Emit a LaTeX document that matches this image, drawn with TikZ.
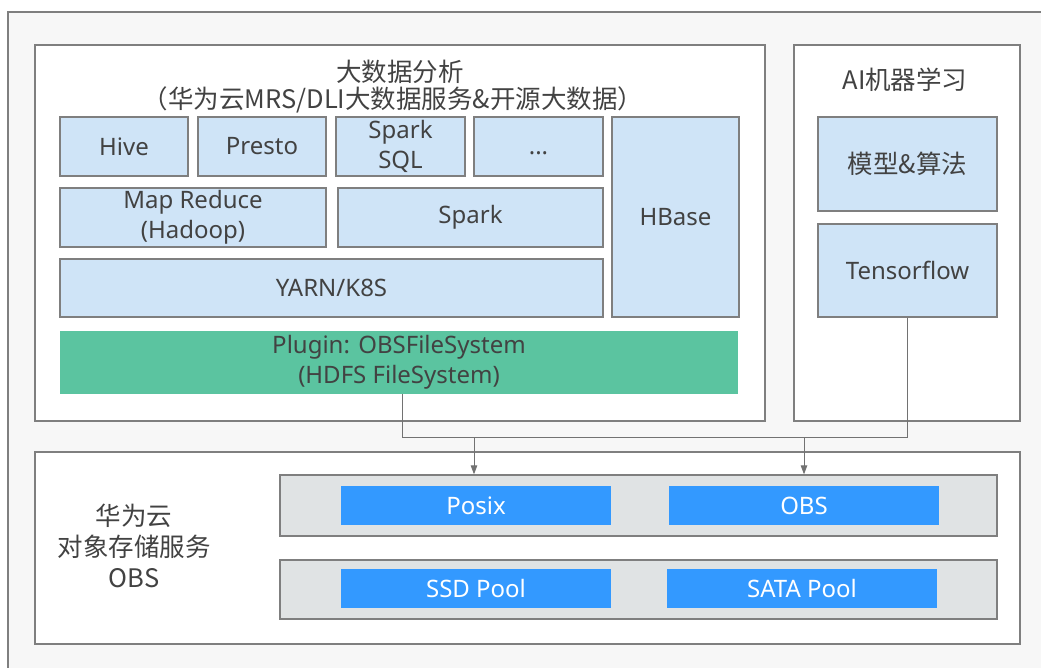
\documentclass[tikz,border=0pt]{standalone}
\usepackage{fontspec}
\setmainfont{Noto Sans}
\newfontfamily\cjk{Noto Sans CJK SC}
\usetikzlibrary{arrows.meta}
\definecolor{framegray}{HTML}{7F7F7F}
\definecolor{bggray}{HTML}{F7F7F7}
\definecolor{lblue}{HTML}{CFE4F7}
\definecolor{pgreen}{HTML}{5BC4A0}
\definecolor{rowgray}{HTML}{E0E3E4}
\definecolor{dblue}{HTML}{3399FF}
\definecolor{txt}{HTML}{424242}
\tikzset{
  panel/.style={draw=framegray, line width=1.3pt, fill=white, inner sep=0pt},
  lbox/.style={draw=framegray, line width=1.3pt, fill=lblue, inner sep=0pt, text=txt, font=\fontsize{24}{30}\selectfont, align=center},
  gbox/.style={fill=pgreen, inner sep=0pt, text=txt, font=\fontsize{24}{30}\selectfont, align=center},
  rowbox/.style={draw=framegray, line width=1.3pt, fill=rowgray, inner sep=0pt},
  bbox/.style={fill=dblue, inner sep=0pt, text=white, font=\fontsize{24}{28}\selectfont},
  ttl/.style={text=txt, font=\cjk\fontsize{25.5}{28}\selectfont, inner sep=0pt, align=center},
  conn/.style={draw=framegray!90!black, line width=1pt},
  arr/.style={conn, -{Triangle[length=9pt,width=6.5pt]}},
}
\begin{document}
\begin{tikzpicture}[x=1pt,y=-1pt]
\useasboundingbox (0,0) rectangle (1041,667);
\fill[white] (0,0) rectangle (1041,667);
\begin{scope}
\clip (0,0) rectangle (1041,667);
\draw[draw=framegray, line width=1.3pt, fill=bggray] (8,12) rectangle (1060,690);
\end{scope}
% panels
\node[panel, minimum width=730pt, minimum height=376pt] (big) at (400,233) {};
\node[panel, minimum width=226pt, minimum height=376pt] (ai) at (907,233) {};
\node[panel, minimum width=985pt, minimum height=192pt] (obsp) at (527.5,548) {};
% titles
\node[ttl] (t1) at (400,72) {大数据分析};
\node[ttl] (t2) at (393,100) {（华为云MRS/DLI大数据服务\&开源大数据）};
\node[ttl] (t3) at (905,80) {AI机器学习};
\node[ttl, font=\cjk\fontsize{25.5}{31}\selectfont] (t4) at (134,546) {华为云\\对象存储服务\\OBS};
% big data boxes
\node[lbox, minimum width=128pt, minimum height=59pt] (hive) at (124,146.5) {Hive};
\node[lbox, minimum width=128pt, minimum height=59pt] (presto) at (262,146.5) {Presto};
\node[lbox, minimum width=129pt, minimum height=59pt] (sql) at (400.5,146.5) {Spark\\SQL};
\node[lbox, minimum width=129pt, minimum height=59pt] (dots) at (538.5,146.5) {\vphantom{H}...};
\node[lbox, minimum width=127pt, minimum height=200pt] (hbase) at (675.5,217) {HBase};
\node[lbox, minimum width=266pt, minimum height=59pt] (mr) at (193,217.5) {Map Reduce\\(Hadoop)};
\node[lbox, minimum width=265pt, minimum height=59pt] (spark) at (470.5,217.5) {Spark};
\node[lbox, minimum width=543pt, minimum height=58pt] (yarn) at (331.5,288) {YARN/K8S};
\node[gbox, minimum width=678pt, minimum height=63pt] (plugin) at (399,362.5) {Plugin: OBSFileSystem\\(HDFS FileSystem)};
% AI boxes
\node[lbox, minimum width=179pt, minimum height=94pt, font=\cjk\fontsize{25.5}{28}\selectfont] (model) at (907.5,164) {模型\&算法};
\node[lbox, minimum width=179pt, minimum height=93pt] (tf) at (907.5,270.5) {Tensorflow};
% OBS rows
\node[rowbox, minimum width=717pt, minimum height=61pt] (row1) at (638.5,505.5) {};
\node[bbox, minimum width=270pt, minimum height=39pt] (posix) at (476,505.5) {Posix};
\node[bbox, minimum width=270pt, minimum height=39pt] (obs) at (804,505.5) {OBS};
\node[rowbox, minimum width=717pt, minimum height=59pt] (row2) at (638.5,589.5) {};
\node[bbox, minimum width=270pt, minimum height=39pt] (ssd) at (476,588.5) {SSD Pool};
\node[bbox, minimum width=270pt, minimum height=39pt] (sata) at (802,588.5) {SATA Pool};
% connectors
\coordinate (bus) at (0,437);
\draw[conn] (tf.south) -- (tf.south |- bus) -- ([xshift=3pt]plugin.south |- bus) -- ([xshift=3pt]plugin.south);
\draw[arr] ([xshift=-2pt]posix.north |- bus) -- ([xshift=-2pt]row1.north -| posix.north);
\draw[arr] (obs.north |- bus) -- (row1.north -| obs.north);
\end{tikzpicture}
\end{document}
